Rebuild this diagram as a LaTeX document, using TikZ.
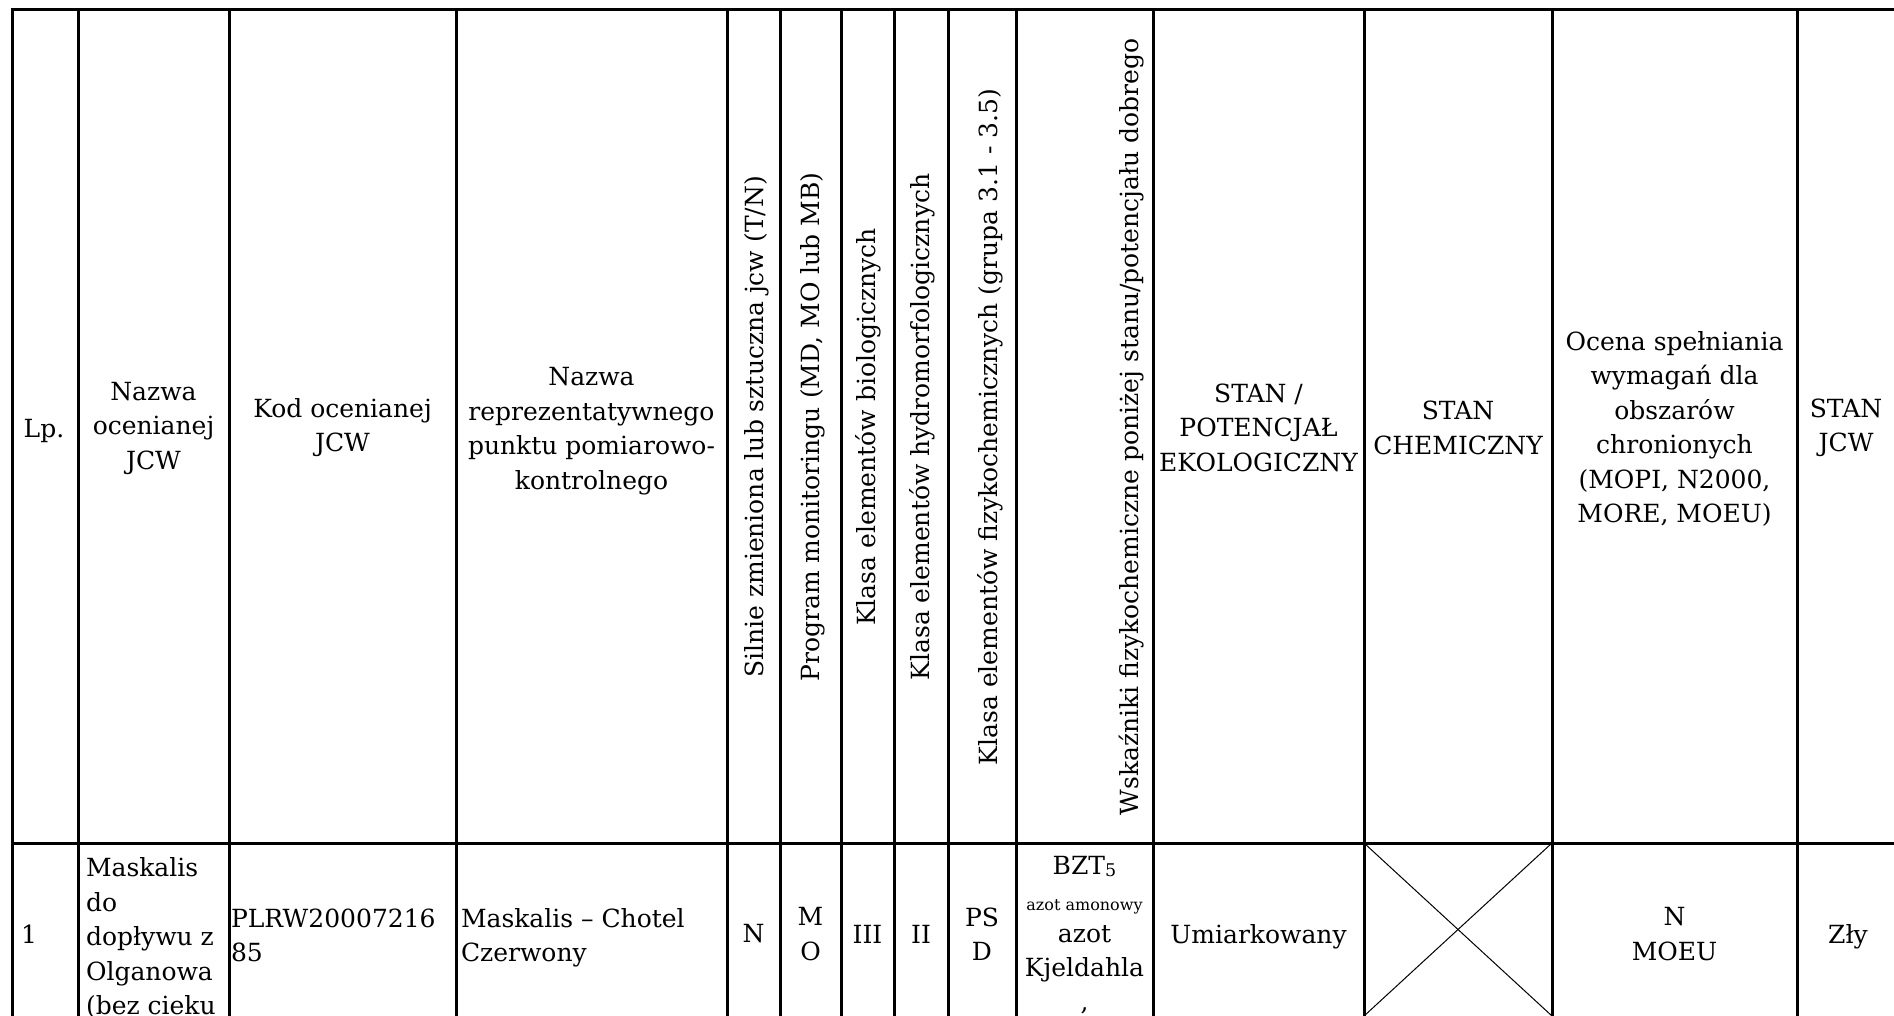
\documentclass[tikz,border=0pt]{standalone}
\usepackage{fontspec}
\setmainfont{DejaVu Serif}
\newcommand{\cellfont}{\fontsize{12.5}{17.25}\selectfont}
\newcommand{\smallcellfont}{\fontsize{8}{10}\selectfont}
\begin{document}
\begin{tikzpicture}[x=0.5pt,y=-0.5pt,
  gridline/.style={line width=1.5pt, line cap=rect},
  thinline/.style={line width=0.5pt},
  txt/.style={inner sep=0pt, outer sep=0pt, font=\cellfont, align=center},
  ltxt/.style={txt, align=left, anchor=west},
  vtxt/.style={txt, rotate=90},
]
\useasboundingbox (0,0) rectangle (1894,1016);
\fill[white] (0,0) rectangle (1894,1016);
\clip (0,0) rectangle (1894,1016);

% grid
\draw[gridline] (12,10) -- (1900,10);
\draw[gridline] (12,843) -- (1900,843);
\foreach \x in {12,78,229,456,727,780,841,894,948,1016,1153,1364,1552,1797}
  \draw[gridline] (\x,10) -- (\x,1024);

% header row
\node[txt] (h1) at (44,431) {Lp.};
\node[txt] (h2) at (153.5,428) {Nazwa\\ocenianej\\JCW};
\node[txt] (h3) at (342.5,427.5) {Kod ocenianej\\JCW};
\node[txt] (h4) at (591.5,431) {Nazwa\\reprezentatywnego\\punktu pomiarowo-\\kontrolnego};
\node[vtxt] (h5) at (757,427) {Silnie zmieniona lub sztuczna jcw (T/N)};
\node[vtxt] (h6) at (813,427) {Program monitoringu (MD, MO lub MB)};
\node[vtxt] (h7) at (868,427) {Klasa elementów biologicznych};
\node[vtxt] (h8) at (922,427) {Klasa elementów hydromorfologicznych};
\node[vtxt] (h9) at (990,427) {Klasa elementów fizykochemicznych (grupa 3.1 - 3.5)};
\node[vtxt] (h10) at (1132,427) {Wskaźniki fizykochemiczne poniżej stanu/potencjału dobrego};
\node[txt] (h11) at (1258.5,427.5) {STAN /\\POTENCJAŁ\\EKOLOGICZNY};
\node[txt] (h12) at (1458,428) {STAN\\CHEMICZNY};
\node[txt] (h13) at (1674.5,429) {Ocena spełniania\\wymagań dla\\obszarów\\chronionych\\(MOPI, N2000,\\MORE, MOEU)};
\node[txt] (h14) at (1846,428) {STAN\\JCW};

% data row
\node[txt] (b1) at (29,934) {1};
\node[ltxt] (b2) at (86,938.2) {Maskalis\\do\\dopływu z\\Olganowa\\(bez cieku};
\node[ltxt] (b3) at (231,935.2) {PLRW20007216\\85};
\node[ltxt] (b4) at (461,937.75) {Maskalis – Chotel\\Czerwony};
\node[txt] (b5) at (753.5,934) {N};
\node[txt] (b6) at (810.5,934) {M\\O};
\node[txt] (b7) at (867.5,934) {III};
\node[txt] (b8) at (921,934) {II};
\node[txt] (b9) at (982,934) {PS\\D};
\node[txt, anchor=base] (b10a) at (1084.5,874) {BZT\raisebox{-1pt}{\fontsize{8.75}{10}\selectfont 5}};
\node[txt, anchor=base, font=\smallcellfont] (b10b) at (1084.5,910) {azot amonowy};
\node[txt, anchor=base] (b10c) at (1084.5,942) {azot};
\node[txt, anchor=base] (b10d) at (1084.5,976) {Kjeldahla};
\node[txt, anchor=base] (b10e) at (1084.5,1010) {,};
\node[txt] (b11) at (1258.5,936.5) {Umiarkowany};
\coordinate (xtl) at (1364,843);
\coordinate (xtr) at (1552,843);
\coordinate (xbl) at (1364,1016);
\coordinate (xbr) at (1552,1016);
\draw[thinline] (xtl) -- (xbr);
\draw[thinline] (xtr) -- (xbl);
\node[txt] (b13) at (1674.5,934) {N\\MOEU};
\node[txt] (b14) at (1848,936.5) {Zły};
\end{tikzpicture}
\end{document}
